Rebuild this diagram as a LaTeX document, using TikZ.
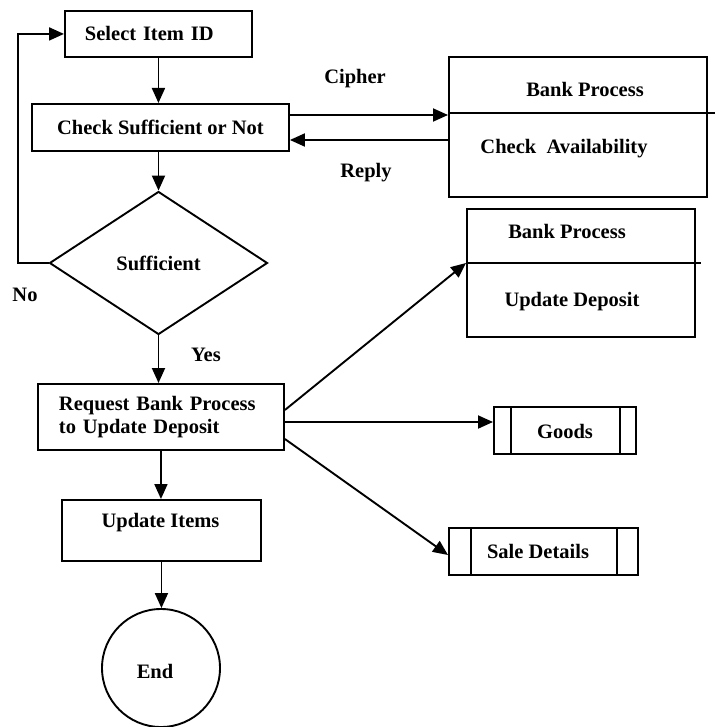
\documentclass[tikz,border=0pt]{standalone}
\usepackage{fontspec}
\setmainfont{Liberation Serif}
\usetikzlibrary{arrows.meta,shapes.geometric}
\begin{document}
\begin{tikzpicture}[x=1pt,y=-1pt,
  every node/.style={font=\fontsize{20.5}{23}\selectfont\bfseries},
  box/.style={draw, line width=1.9pt, inner sep=0pt, anchor=north west},
  arr/.style={line width=1.9pt, -{Triangle[length=15pt,width=13pt]}},
  ln/.style={line width=1.9pt},
  lbl/.style={inner sep=0pt}]
\useasboundingbox (0,0) rectangle (718,727);
% main column
\node[box, minimum width=187pt, minimum height=46pt, text width=147pt, inner xsep=20pt, align=left] (sel) at (64,10) {Select Item ID};
\node[box, minimum width=257pt, minimum height=47pt] (chk) at (31,103) {Check Sufficient or Not};
\node[diamond, draw, ln, minimum width=218pt, minimum height=143pt, inner sep=0pt] (suf) at (158.5,263) {Sufficient};
\node[box, minimum width=246pt, minimum height=66pt, text width=204pt, inner xsep=21pt, align=left] (req) at (37,383) {Request Bank Process\\to Update Deposit};
\node[box, minimum width=199pt, minimum height=61pt] (upd) at (61,499) {};
\node[lbl] (updt) at (160.5,523) {Update Items};
\node[circle, draw, ln, minimum size=118pt, inner sep=0pt] (endn) at (161,668) {};
\node[lbl] (endt) at (155,671) {End};
% bank boxes
\node[box, minimum width=258pt, minimum height=140pt] (bk1) at (448,56) {};
\node[lbl] (bk1a) at (585,89) {Bank Process};
\node[lbl] (bk1b) at (564,149) {Check\ \ Availability};
\node[box, minimum width=228pt, minimum height=128pt] (bk2) at (466,208) {};
\node[lbl] (bk2a) at (567,231) {Bank Process};
\node[lbl] (bk2b) at (572,302) {Update Deposit};
\coordinate (d1) at (715,113);
\coordinate (d2) at (701,263);
\draw[ln] (bk1.west |- d1) -- (d1);
\draw[ln] (bk2.west |- d2) -- (d2);
% goods / sale details
\node[box, minimum width=142pt, minimum height=47pt] (gd) at (493,406) {};
\node[lbl] (gdt) at (565,431) {Goods};
\draw[ln] ([xshift=18pt]gd.north west) -- ([xshift=18pt]gd.south west);
\draw[ln] ([xshift=-17pt]gd.north east) -- ([xshift=-17pt]gd.south east);
\node[box, minimum width=189pt, minimum height=47pt] (sd) at (448,527) {};
\node[lbl] (sdt) at (538,551) {Sale Details};
\draw[ln] ([xshift=23pt]sd.north west) -- ([xshift=23pt]sd.south west);
\draw[ln] ([xshift=-22pt]sd.north east) -- ([xshift=-22pt]sd.south east);
% labels
\node[lbl] (cip) at (355,79) {Cipher};
\node[lbl] (rep) at (366,173) {Reply};
\node[lbl] (no) at (25,295) {No};
\node[lbl] (yes) at (206,355) {Yes};
% connectors
\coordinate (cy) at (0,115);
\coordinate (ry) at (0,140);
\coordinate (loop) at (18,263);
\coordinate (r1) at (0,410);
\coordinate (r2) at (0,422);
\coordinate (r3) at (0,439);
\coordinate (s3) at (0,555);
\draw[arr] (sel.south) -- (sel.south |- chk.north);
\draw[arr] (chk.south -| suf.north) -- (suf.north);
\draw[arr] (loop -| suf.west) -- (loop) |- (sel.west);
\draw[arr] (suf.south) -- (suf.south |- req.north);
\draw[arr] (req.south) -- (req.south |- upd.north);
\draw[arr] (upd.south) -- (upd.south |- endn.north);
\draw[arr] (chk.east |- cy) -- (bk1.west |- cy);
\draw[arr] (bk1.west |- ry) -- (chk.east |- ry);
\draw[arr] (req.east |- r1) -- (bk2.west |- d2);
\draw[arr] (req.east |- r2) -- (gd.west |- r2);
\draw[arr] (req.east |- r3) -- (sd.west |- s3);
\end{tikzpicture}
\end{document}
